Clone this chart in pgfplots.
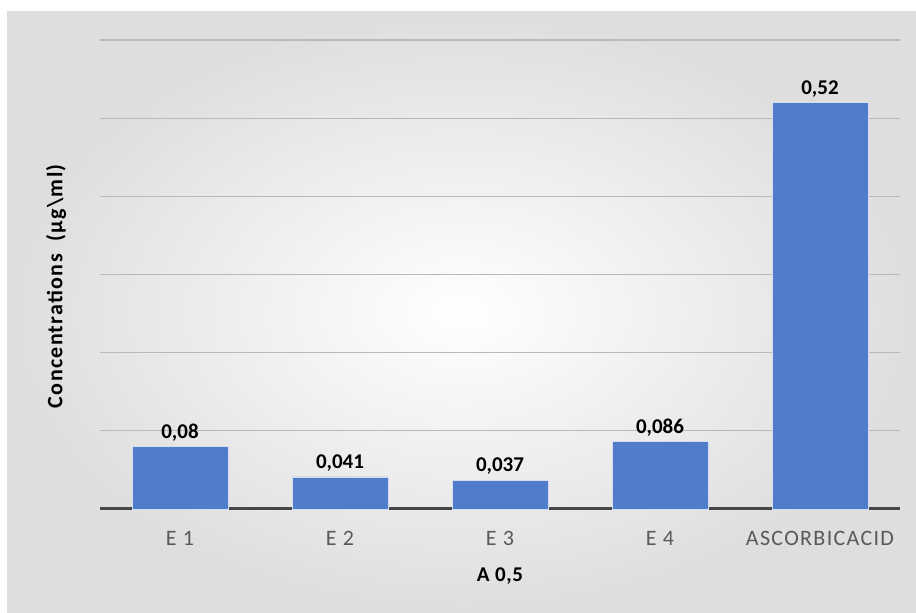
\documentclass[border=0pt]{standalone}
\usepackage{fontspec}
\setmainfont{Carlito}
\usepackage{pgfplots}
\pgfplotsset{compat=1.18}
\definecolor{barblue}{RGB}{80,124,202}
\definecolor{txtgray}{RGB}{89,89,89}
\definecolor{gridgray}{RGB}{185,185,185}
\begin{document}
\begin{tikzpicture}[x=1pt,y=1pt]
\useasboundingbox (0,0) rectangle (916,613);
\fill[white] (0,0) rectangle (916,613);
\shade[inner color=white, outer color=black!13] (7,0) rectangle (916,601);
\begin{axis}[
  at={(100pt,104pt)}, anchor=south west,
  scale only axis, width=800pt, height=469pt,
  xmin=-0.5, xmax=4.5, ymin=0, ymax=0.6,
  ytick={0,0.1,...,0.6}, yticklabels={},
  ymajorgrids, grid style={gridgray, line width=1.2pt},
  major tick length=0pt,
  axis x line*=bottom, axis y line*=left,
  y axis line style={draw=none},
  x axis line style={black!72, line width=3pt, -},
  xtick=data,
  xticklabels={E 1, E 2, E 3, E 4, ASCORBICACID},
  xticklabel style={font=\fontsize{22}{24}\selectfont\addfontfeature{LetterSpace=6}, text=txtgray, yshift=-19pt},
  xlabel={A 0,5},
  xlabel style={font=\bfseries\fontsize{21}{24}\selectfont\addfontfeature{LetterSpace=3}, at={(axis description cs:0.5,0)}, anchor=center, yshift=-67pt},
  ylabel={Concentrations\ \ (µg\textbackslash ml)},
  ylabel style={font=\bfseries\fontsize{22}{24}\selectfont\addfontfeature{LetterSpace=6}, at={(axis description cs:-0.055,0.475)}, anchor=center},
  ybar, bar width=0.6,
  point meta=explicit symbolic,
  nodes near coords,
  every node near coord/.append style={font=\bfseries\fontsize{21}{24}\selectfont, anchor=south, inner sep=1pt, yshift=4pt},
  clip=false,
]
\addplot[fill=barblue, draw=white!75!barblue, line width=0.6pt] coordinates {
  (0,0.08) [0,08]
  (1,0.041) [0,041]
  (2,0.037) [0,037]
  (3,0.086) [0,086]
  (4,0.52) [0,52]
};
\end{axis}
\end{tikzpicture}
\end{document}
